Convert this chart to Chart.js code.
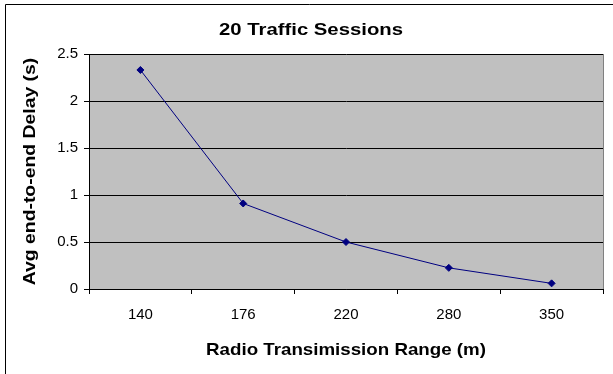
<!DOCTYPE html>
<html>
<head>
<meta charset="utf-8">
<script src="https://cdn.jsdelivr.net/npm/chart.js@4.4.1/dist/chart.umd.min.js"></script>
<style>
  html, body { margin: 0; padding: 0; background: #fff; }
  #wrap { width: 613px; height: 374px; position: relative; }
</style>
</head>
<body>
<div id="wrap"><canvas id="c" width="613" height="374"></canvas></div>
<script>
// Radio range (m) vs. average end-to-end delay (s)
const ranges = ['140', '176', '220', '280', '350'];
const delays = [2.33, 0.91, 0.50, 0.225, 0.06];
const yTicks = [0, 0.5, 1, 1.5, 2, 2.5];

const chartTitle = '20 Traffic Sessions';
const xTitle = 'Radio Transimission Range (m)';
const yTitle = 'Avg end-to-end Delay (s)';

const FONT = "'Liberation Sans', Arial, sans-serif";

// Grey plot background, plot border and the outer frame
const frame = {
  id: 'frame',
  beforeDraw(chart) {
    const { ctx, chartArea: a } = chart;
    ctx.save();
    ctx.fillStyle = '#c0c0c0';
    ctx.fillRect(a.left, a.top, a.right - a.left, a.bottom - a.top);
    ctx.strokeStyle = '#808080';
    ctx.lineWidth = 1;
    ctx.beginPath();
    ctx.moveTo(Math.round(a.right) + 0.5, a.top);
    ctx.lineTo(Math.round(a.right) + 0.5, a.bottom);
    ctx.stroke();
    ctx.strokeStyle = '#000';
    ctx.beginPath();
    ctx.moveTo(5.5, chart.height);
    ctx.lineTo(5.5, 4.5);
    ctx.lineTo(chart.width, 4.5);
    ctx.stroke();
    ctx.restore();
  }
};

// Wide bold headings: chart title and the two axis titles
const wideTitles = {
  id: 'wideTitles',
  afterDraw(chart) {
    const { ctx, chartArea: a } = chart;
    const draw = (text, x, y, size, sx, rot) => {
      ctx.save();
      ctx.translate(x, y);
      ctx.rotate(rot);
      ctx.scale(sx, 1);
      ctx.font = 'bold ' + size + 'px ' + FONT;
      ctx.fillStyle = '#000';
      ctx.textAlign = 'center';
      ctx.textBaseline = 'middle';
      ctx.fillText(text, 0, 0);
      ctx.restore();
    };
    draw(chartTitle, 311, 30.5, 16.8, 1.21, 0);
    draw(xTitle, (a.left + a.right) / 2, 351, 16.3, 1.15, 0);
    draw(yTitle, 31, (a.top + a.bottom) / 2, 16.3, 1.19, -Math.PI / 2);
  }
};

new Chart(document.getElementById('c'), {
  type: 'line',
  data: {
    labels: ranges,
    datasets: [{
      data: delays,
      borderColor: '#000080',
      backgroundColor: '#000080',
      borderWidth: 1,
      pointStyle: 'rectRot',
      pointRadius: 3.5,
      pointBorderWidth: 1,
      pointBackgroundColor: '#000080',
      pointBorderColor: '#000080',
      tension: 0,
      fill: false
    }]
  },
  options: {
    responsive: false,
    animation: false,
    devicePixelRatio: 1,
    layout: { padding: { left: 0, right: 10, top: 54, bottom: 0 } },
    plugins: {
      legend: { display: false },
      tooltip: { enabled: false },
      title: { display: false }
    },
    scales: {
      x: {
        offset: true,
        grid: {
          offset: true,
          drawOnChartArea: false,
          drawTicks: true,
          tickLength: 5,
          color: '#000',
          tickColor: '#000'
        },
        border: { display: true, color: '#000', width: 1 },
        ticks: {
          color: '#000',
          font: { family: FONT, size: 15 },
          padding: 11.5,
          maxRotation: 0
        },
        title: { display: false },
        afterFit(scale) { scale.height = 85; }
      },
      y: {
        min: 0,
        max: 2.5,
        afterBuildTicks(scale) { scale.ticks = yTicks.map(v => ({ value: v })); },
        grid: {
          color: '#000',
          tickColor: '#000',
          tickLength: 5,
          drawTicks: true
        },
        border: { display: true, color: '#000', width: 1 },
        ticks: {
          color: '#000',
          font: { family: FONT, size: 15 },
          padding: 6,
          callback: v => String(v)
        },
        title: { display: false },
        afterFit(scale) { scale.width = 89; }
      }
    }
  },
  plugins: [frame, wideTitles]
});
</script>
</body>
</html>
